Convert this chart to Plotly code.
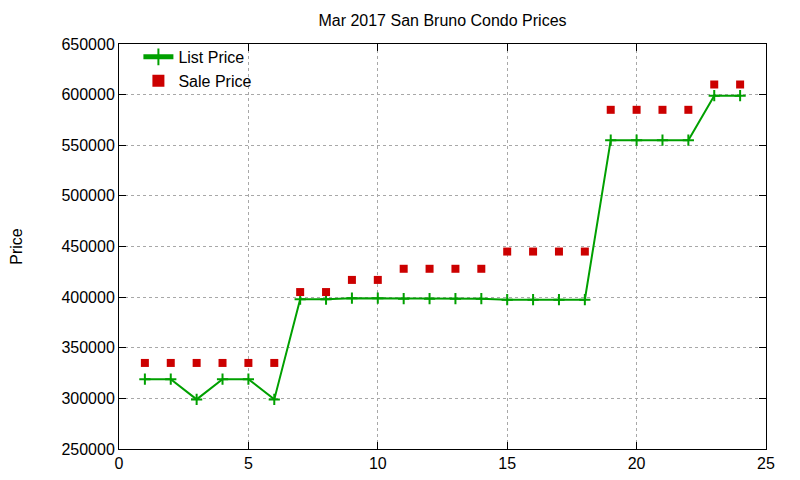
import plotly.graph_objects as go

# listing index 1..24, prices
listing = list(range(1, 25))
list_price = [319000, 319000, 299000, 319000, 319000, 299000,
              398000, 398000, 399000, 399000,
              398500, 398500, 398500, 398500,
              397500, 397500, 397500, 397500,
              555000, 555000, 555000, 555000,
              599000, 599000]
sale_price = [335000, 335000, 335000, 335000, 335000, 335000,
              405000, 405000, 417000, 417000,
              428000, 428000, 428000, 428000,
              445000, 445000, 445000, 445000,
              585000, 585000, 585000, 585000,
              610000, 610000]

x_ticks = [0, 5, 10, 15, 20, 25]
y_ticks = [250000, 300000, 350000, 400000, 450000, 500000, 550000, 600000, 650000]

font = "Liberation Sans, Arial, sans-serif"

fig = go.Figure()
fig.add_trace(go.Scatter(
    x=listing, y=list_price, name="List Price", mode="lines+markers",
    line=dict(color="#00a000", width=2),
    marker=dict(symbol="cross-thin-open", size=8,
                line=dict(color="#00a000", width=2)),
))
fig.add_trace(go.Scatter(
    x=listing, y=sale_price, name="Sale Price", mode="markers",
    marker=dict(symbol="square", size=8, color="#cc0000"),
))

axis_style = dict(
    showline=True, linecolor="black", linewidth=1, mirror="ticks",
    ticks="inside", ticklen=7, tickcolor="black",
    showgrid=True, gridcolor="#a8a8a8", griddash="dot", gridwidth=1,
    zeroline=False, tickfont=dict(size=16, color="black"),
    automargin=False,
)

fig.update_xaxes(range=[0, 25], tickvals=x_ticks, **axis_style)
fig.update_yaxes(range=[250000, 650000], tickvals=y_ticks,
                 tickformat="d", title=dict(text="Price", font=dict(size=16), standoff=50),
                 **axis_style)

# the page adds an 8px body margin, so margins are shifted to compensate
fig.update_layout(
    width=800, height=480,
    margin=dict(l=111, r=42, t=36, b=39),
    paper_bgcolor="white", plot_bgcolor="white",
    font=dict(family=font, size=16, color="black"),
    title=dict(text="Mar 2017 San Bruno Condo Prices", xref="paper", x=0.5, xanchor="center",
               y=1 - 12 / 480, yanchor="middle", font=dict(size=16), automargin=False),
    legend=dict(x=0.03, y=1.01, xanchor="left", yanchor="top",
                bgcolor="rgba(0,0,0,0)", font=dict(size=16),
                tracegroupgap=0, itemsizing="constant"),
    showlegend=True,
)

fig.write_html("out.html")
